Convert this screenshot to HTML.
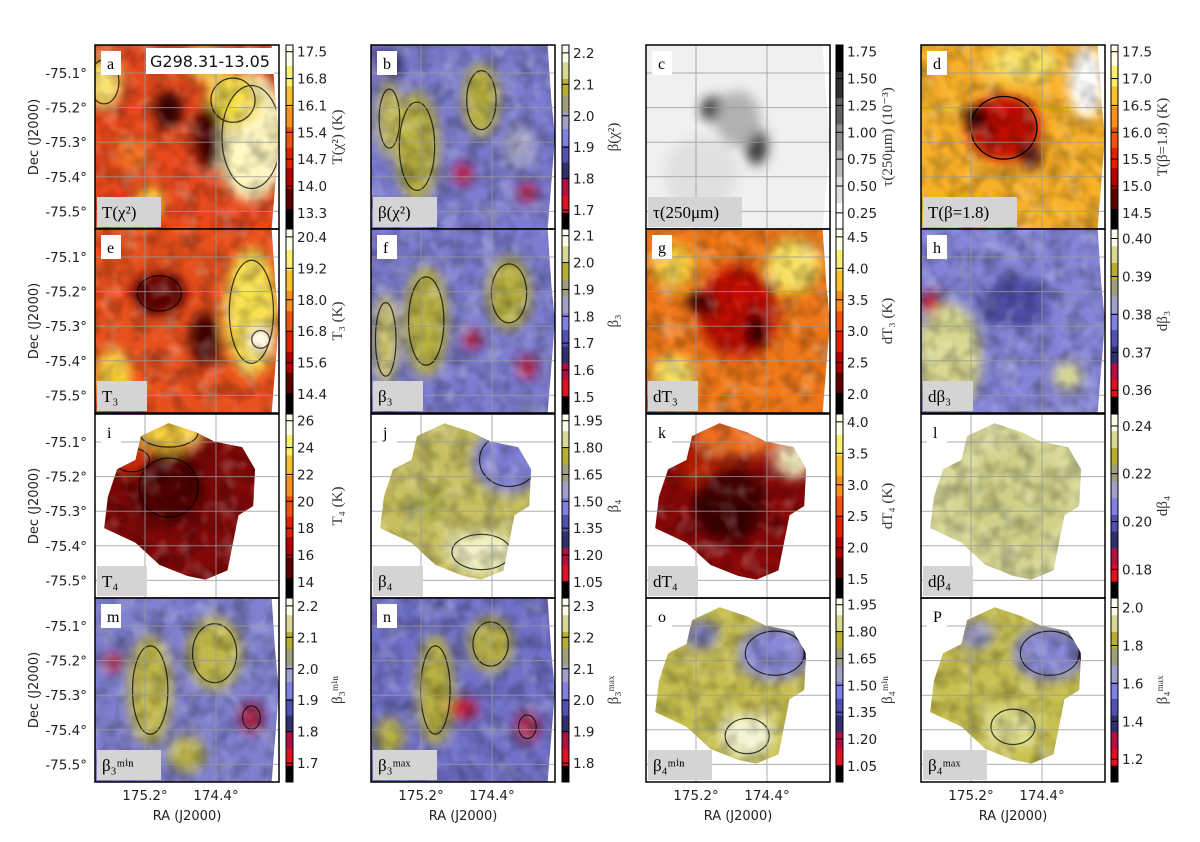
<!DOCTYPE html>
<html><head><meta charset="utf-8"><style>
html,body{margin:0;padding:0;background:#fff;width:1200px;height:842px;overflow:hidden}
svg text{font-family:"DejaVu Sans","Liberation Sans",sans-serif}
.serif{font-family:"Liberation Serif","DejaVu Serif",serif}
</style></head><body>
<svg id="fig" width="1200" height="842" viewBox="0 0 1200 842" xmlns="http://www.w3.org/2000/svg">
<defs>
<filter id="blur" x="-20%" y="-20%" width="140%" height="140%"><feGaussianBlur stdDeviation="6"/></filter>
<filter id="noise" x="0" y="0" width="100%" height="100%"><feTurbulence type="fractalNoise" baseFrequency="0.06" numOctaves="2" seed="3"/><feColorMatrix type="matrix" values="0 0 0 0 0  0 0 0 0 0  0 0 0 0 0  0 0 0 -1.6 1.0"/></filter>
<filter id="noise2" x="0" y="0" width="100%" height="100%"><feTurbulence type="fractalNoise" baseFrequency="0.05" numOctaves="2" seed="9"/><feColorMatrix type="matrix" values="0 0 0 0 1  0 0 0 0 1  0 0 0 0 1  0 0 0 1.8 -0.9"/></filter>
</defs>
</svg>
<script>
// ---- data ----
const colX=[95,371,646,921];
const rowY=[45,229,414,598];
const panelW=184, panelH=184;
const cbarX=[286,562,836,1111];
const decTicks=[-75.1,-75.2,-75.3,-75.4,-75.5];
const raTicks=["175.2°","174.4°"];
const letters=["a","b","c","d","e","f","g","h","i","j","k","l","m","n","o","p"];
const cbTicks=[
 [17.5,16.8,16.1,15.4,14.7,14.0,13.3],[2.2,2.1,2.0,1.9,1.8,1.7],[1.75,1.50,1.25,1.00,0.75,0.50,0.25],[17.5,17.0,16.5,16.0,15.5,15.0,14.5],
 [20.4,19.2,18.0,16.8,15.6,14.4],[2.1,2.0,1.9,1.8,1.7,1.6,1.5],[4.5,4.0,3.5,3.0,2.5,2.0],[0.40,0.39,0.38,0.37,0.36],
 [26,24,22,20,18,16,14],[1.95,1.80,1.65,1.50,1.35,1.20,1.05],[4.0,3.5,3.0,2.5,2.0,1.5],[0.24,0.22,0.20,0.18],
 [2.2,2.1,2.0,1.9,1.8,1.7],[2.3,2.2,2.1,2.0,1.9,1.8],[1.95,1.80,1.65,1.50,1.35,1.20,1.05],[2.0,1.8,1.6,1.4,1.2]];
const cbDigits=[1,1,2,1,1,1,1,2,0,2,1,2,1,1,2,1];
const cbLabels=["T(χ²) (K)","β(χ²)","τ(250μm) (10⁻³)","T(β=1.8) (K)","T₃ (K)","β₃","dT₃ (K)","dβ₃","T₄ (K)","β₄","dT₄ (K)","dβ₄","β₃ᵐⁱⁿ","β₃ᵐᵃˣ","β₄ᵐⁱⁿ","β₄ᵐᵃˣ"];
const cornerLabels=["T(χ²)","β(χ²)","τ(250μm)","T(β=1.8)","T₃","β₃","dT₃","dβ₃","T₄","β₄","dT₄","dβ₄","β₃ᵐⁱⁿ","β₃ᵐᵃˣ","β₄ᵐⁱⁿ","β₄ᵐᵃˣ"];
const cmapType=["hot","beta","grey","hot","hot","beta","hot","beta","hot","beta","hot","beta","beta","beta","beta","beta"];
const cmaps={
 hot:["#000000","#5a0000","#b00000","#e02000","#f05010","#f89020","#f8c030","#f8f070","#ffffe8"],
 beta:["#000000","#e01020","#b01040","#303070","#5050b0","#8080e0","#a0a0c8","#a0a080","#b8b030","#d8d890","#fafae8"],
 grey:["#ffffff","#e0e0e0","#b8b8b8","#8c8c8c","#606060","#303030","#000000"]};
const looks=[
 ["#e8481c",[[.85,.5,.2,.35,"#fff8c0"],[.75,.3,.15,.15,"#f8e050"],[.05,.2,.1,.15,"#f8e070"],[.4,.35,.08,.1,"#300000"],[.62,.5,.08,.18,"#400000"],[.2,.6,.1,.1,"#f07020"],[.6,.1,.1,.1,"#f8d040"],[.3,.85,.08,.08,"#f8d040"]]],
 ["#7c7cd0",[[.25,.55,.12,.3,"#b8b040"],[.6,.3,.1,.2,"#b8b040"],[.1,.4,.07,.2,"#c8c060"],[.8,.55,.08,.12,"#a0a0c0"],[.5,.7,.05,.06,"#c01030"],[.85,.8,.05,.05,"#c01030"],[.1,.1,.08,.08,"#303070"]]],
 ["#f0f0f0",[[.38,.35,.08,.07,"#202020"],[.6,.55,.06,.1,"#303030"],[.5,.4,.12,.15,"#b0b0b0"],[.3,.7,.2,.2,"#e0e0e0"]]],
 ["#f8b028",[[.45,.45,.2,.18,"#c01000"],[.3,.4,.07,.07,"#200000"],[.6,.6,.06,.08,"#400000"],[.9,.2,.1,.2,"#ffffff"],[.55,.1,.2,.1,"#f8e060"]]],
 ["#e8501c",[[.85,.45,.15,.35,"#f8e050"],[.9,.6,.06,.06,"#ffffff"],[.35,.35,.15,.12,"#600000"],[.6,.6,.08,.15,"#400000"],[.1,.8,.1,.15,"#f8d040"]]],
 ["#7c7cd0",[[.3,.5,.12,.3,"#b8b040"],[.75,.35,.12,.2,"#b8b040"],[.08,.6,.07,.25,"#d0c870"],[.55,.6,.05,.05,"#c01030"],[.85,.75,.05,.06,"#c01030"]]],
 ["#f07818",[[.5,.45,.22,.25,"#c01000"],[.3,.4,.08,.06,"#300000"],[.6,.55,.07,.1,"#400000"],[.8,.2,.15,.15,"#f8e060"],[.15,.2,.12,.12,"#f8d040"],[.15,.8,.12,.12,"#f8e060"]]],
 ["#8484d8",[[.15,.7,.18,.3,"#d8d890"],[.5,.4,.2,.15,"#5050a8"],[.05,.4,.06,.06,"#c01030"],[.8,.8,.08,.08,"#d8d890"]]],
 ["#800808",[[.4,.1,.2,.1,"#f8d040"],[.2,.25,.12,.08,"#e03010"],[.4,.4,.2,.2,"#500000"]]],
 ["#c8c060",[[.75,.25,.2,.18,"#8080d8"],[.95,.2,.05,.06,"#400010"],[.6,.75,.2,.12,"#f0f0c0"],[.3,.5,.1,.1,"#b0b050"]]],
 ["#8a0808",[[.5,.12,.25,.12,"#f07020"],[.8,.25,.1,.1,"#f8f0c0"],[.3,.3,.12,.1,"#c02000"],[.45,.5,.2,.2,"#400000"]]],
 ["#d8d898",[[.95,.22,.04,.05,"#303080"],[.2,.08,.04,.04,"#7070c0"],[.5,.5,.3,.3,"#d0d088"]]],
 ["#8080d0",[[.3,.5,.12,.3,"#c0b848"],[.65,.3,.15,.2,"#c0b848"],[.85,.65,.06,.08,"#b01030"],[.1,.35,.05,.05,"#c01030"],[.5,.85,.1,.1,"#b8b040"]]],
 ["#7070c8",[[.35,.5,.1,.3,"#b8b040"],[.65,.25,.12,.15,"#b8b040"],[.85,.7,.06,.08,"#b01030"],[.5,.6,.08,.06,"#c01030"],[.1,.75,.08,.1,"#b8b040"]]],
 ["#c8c050",[[.7,.3,.2,.15,"#8888d8"],[.9,.3,.05,.07,"#300010"],[.55,.75,.15,.12,"#f4f4d0"],[.3,.2,.1,.08,"#8080c0"]]],
 ["#c8c050",[[.7,.3,.2,.15,"#8888d8"],[.9,.3,.05,.07,"#300010"],[.5,.7,.15,.12,"#e0e090"],[.3,.2,.1,.08,"#9090c0"]]]];
const shape=[[.25,.12],[.4,.05],[.55,.1],[.65,.15],[.8,.18],[.87,.3],[.86,.5],[.78,.55],[.75,.7],[.72,.85],[.6,.9],[.5,.88],[.35,.82],[.22,.7],[.05,.62],[.07,.45],[.12,.3],[.22,.25]];
const shapeRows=[2,3];
// ---- drawing ----
const NS="http://www.w3.org/2000/svg";
const svg=document.getElementById("fig");
const defs=svg.querySelector("defs");
function mk(t,a,p){const e=document.createElementNS(NS,t);for(const k in a)e.setAttribute(k,a[k]);(p||svg).appendChild(e);return e;}
const decScale=v=>28+(-75.1-v)/0.1*34.6;
const raScale=i=>[50,121][i];
for(let r=0;r<4;r++)for(let c=0;c<4;c++){
 const i=r*4+c,x0=colX[c],y0=rowY[r];
 const g=mk("g",{});
 
 
 const cp=mk("clipPath",{id:"cp"+i},defs);
 if(shapeRows.includes(r)&&!(r===3&&c<2)){
  mk("polygon",{points:shape.map(p=>(x0+p[0]*panelW)+","+(y0+p[1]*panelH)).join(" ")},cp);
 } else {
  mk("polygon",{points:[[0,0],[.96,0],[.98,.3],[1,.5],[.98,.75],[.96,1],[0,1]].map(p=>(x0+p[0]*panelW)+","+(y0+p[1]*panelH)).join(" ")},cp);
 }
 const lk=looks[i];
 const mg=mk("g",{"clip-path":"url(#cp"+i+")"},g);
 mk("rect",{x:x0,y:y0,width:panelW,height:panelH,fill:lk[0]},mg);
 const bg=mk("g",{filter:"url(#blur)"},mg);
 lk[1].forEach(b=>mk("ellipse",{cx:x0+b[0]*panelW,cy:y0+b[1]*panelH,rx:b[2]*panelW,ry:b[3]*panelH,fill:b[4]},bg));
 if(cmapType[i]!=="grey"){
  mk("rect",{x:x0,y:y0,width:panelW,height:panelH,filter:"url(#noise)",opacity:.35},mg);
  mk("rect",{x:x0,y:y0,width:panelW,height:panelH,filter:"url(#noise2)",opacity:.35},mg);
 }
 if(cmapType[i]!=="grey"&&i!==3&&i!==6&&i!==7&&i!==10&&i!==11){
  const cg=mk("g",{fill:"none",stroke:"#000","stroke-width":1.2,opacity:.75},mg);
  lk[1].slice(0,3).forEach(b=>mk("ellipse",{cx:x0+b[0]*panelW,cy:y0+b[1]*panelH,rx:b[2]*panelW*.8,ry:b[3]*panelH*.8},cg));
 }
 if(i===3){mk("ellipse",{cx:x0+.45*panelW,cy:y0+.45*panelH,rx:.18*panelW,ry:.17*panelH,fill:"none",stroke:"#000","stroke-width":1.3},mg);}
 const gg=mk("g",{stroke:"#999","stroke-width":1,opacity:.8},g);
 decTicks.forEach(v=>mk("line",{x1:x0,x2:x0+panelW,y1:y0+decScale(v),y2:y0+decScale(v)},gg));
 [0,1].forEach(k=>mk("line",{x1:x0+raScale(k),x2:x0+raScale(k),y1:y0,y2:y0+panelH},gg));
 mk("rect",{x:x0,y:y0,width:panelW,height:panelH,fill:"none",stroke:"#000","stroke-width":1.5},g);
 mk("rect",{x:x0+6,y:y0+6,width:20,height:24,fill:"#fff"},g);
 const lt=mk("text",{x:x0+12,y:y0+24,"font-size":16,class:"serif"},g);lt.textContent=letters[i]==="p"?"P":letters[i];
 
 
 const cw=Math.max(50,cornerLabels[i].length*10+14);
 mk("rect",{x:x0+2,y:y0+panelH-32,width:cw,height:30,fill:"#d4d4d4"},g);
 const cl=mk("text",{x:x0+7,y:y0+panelH-11,"font-size":17,class:"serif"},g);cl.textContent=cornerLabels[i];
 
 
 const cx=cbarX[c],cols=cmaps[cmapType[i]],n=cols.length;
 const cb=mk("g",{},g);
 
 
 for(let k=0;k<n;k++){mk("rect",{x:cx,y:y0+panelH-(k+1)*panelH/n,width:7,height:panelH/n+.5,fill:cols[k]},cb);}
 mk("rect",{x:cx,y:y0,width:7,height:panelH,fill:"none",stroke:"#000","stroke-width":1},cb);
 const tk=cbTicks[i],step=tk[0]-tk[1],vmax=tk[0]+step*.25,vmin=tk[tk.length-1]-step*.6;
 const cs=v=>y0+(vmax-v)/(vmax-vmin)*panelH;
 tk.forEach(v=>{const y=cs(v);
  mk("line",{x1:cx,x2:cx+7,y1:y,y2:y,stroke:"#000"},cb);
  const t=mk("text",{x:cx+11,y:y+5,"font-size":13.5,fill:"#222"},cb);t.textContent=v.toFixed(cbDigits[i]);});
 const cbl=mk("text",{transform:`translate(${cx+56},${y0+panelH/2}) rotate(-90)`,"text-anchor":"middle","font-size":15,class:"serif",fill:"#333"},cb);
 cbl.textContent=cbLabels[i];
 
 
 if(c===0){decTicks.forEach(v=>{const t=mk("text",{x:x0-8,y:y0+decScale(v)+5,"text-anchor":"end","font-size":13.5,fill:"#222"});t.textContent=v.toFixed(1)+"°";});
  const yl=mk("text",{transform:`translate(38,${y0+panelH/2}) rotate(-90)`,"text-anchor":"middle","font-size":13,fill:"#222"});yl.textContent="Dec (J2000)";
  
  }
 if(r===3){raTicks.forEach((s,k)=>{const t=mk("text",{x:x0+raScale(k),y:y0+panelH+18,"text-anchor":"middle","font-size":13.5,fill:"#222"});t.textContent=s;});
  const xl=mk("text",{x:x0+panelW/2,y:y0+panelH+38,"text-anchor":"middle","font-size":13,fill:"#222"});xl.textContent="RA (J2000)";
  
  }
}
mk("rect",{x:146,y:48,width:128,height:26,fill:"#fff"});
const tt=mk("text",{x:150,y:67,"font-size":16,fill:"#111"});tt.textContent="G298.31-13.05";


</script>
</body></html>
